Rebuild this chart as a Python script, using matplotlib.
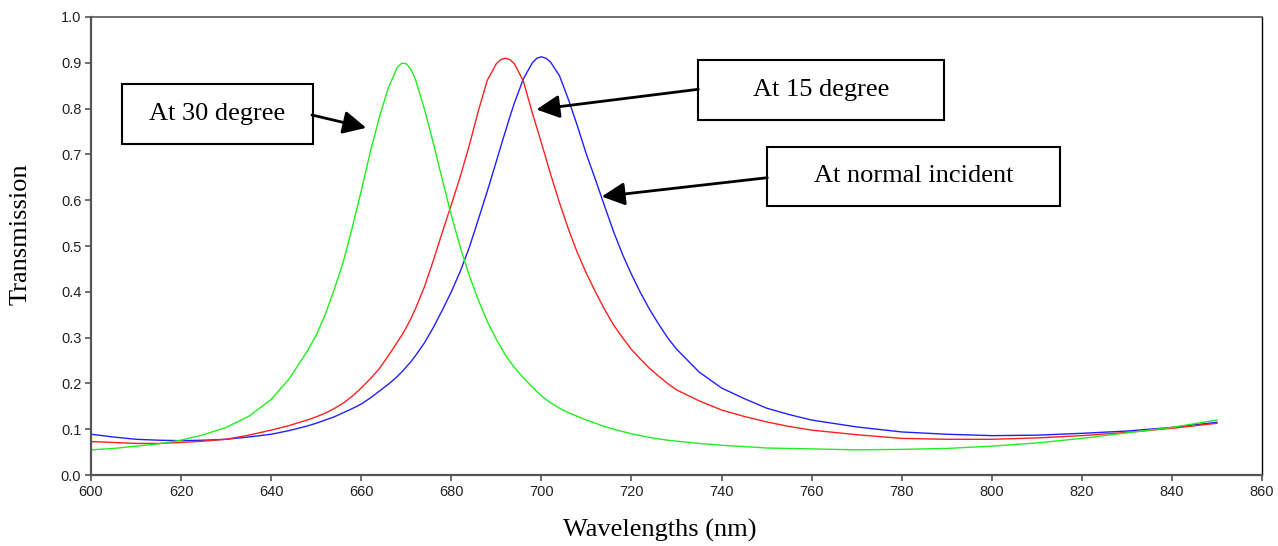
import matplotlib.pyplot as plt
from matplotlib.patches import Rectangle

# %% data

wavelength = [600, 605, 610, 615, 620, 625, 630, 635, 640, 644, 648,
              650, 652, 654, 656, 658, 660, 662, 664, 666, 668, 669,
              670, 671, 672, 674, 676, 678, 680, 682, 684, 686, 688,
              690, 691, 692, 693, 694, 696, 698, 699, 700, 701, 702, 704, 706, 708,
              710, 712, 714, 716, 718, 720, 722, 724, 726, 728,
              730,
              735, 740, 745, 750, 755, 760, 770, 780, 790, 800, 810, 820, 830, 840, 850]

t_30deg = [0.055, 0.058, 0.063, 0.068, 0.076, 0.088, 0.104, 0.128, 0.165, 0.21, 0.27,
           0.305, 0.35, 0.405, 0.465, 0.54, 0.62, 0.705, 0.78, 0.845, 0.89, 0.899,
           0.898, 0.886, 0.865, 0.80, 0.725, 0.645, 0.567, 0.497, 0.435, 0.382, 0.335,
           0.296, 0.279, 0.262, 0.248, 0.235, 0.212, 0.192, 0.182, 0.173, 0.165, 0.158,
           0.146, 0.136, 0.128,
           0.120, 0.113, 0.106, 0.100, 0.095, 0.090, 0.086, 0.082, 0.079, 0.076,
           0.074,
           0.069, 0.065, 0.062, 0.059, 0.058, 0.057, 0.055, 0.056, 0.058, 0.063,
           0.070, 0.080, 0.092, 0.104, 0.120]

t_15deg = [0.073, 0.071, 0.069, 0.069, 0.071, 0.074, 0.078, 0.087, 0.098, 0.108, 0.120,
           0.127, 0.135, 0.145, 0.157, 0.172, 0.19, 0.21, 0.232, 0.26, 0.29, 0.305,
           0.322, 0.341, 0.362, 0.41, 0.468, 0.53, 0.59, 0.652, 0.72, 0.795, 0.862,
           0.898, 0.907, 0.91, 0.907, 0.898, 0.86, 0.79, 0.758, 0.725, 0.692, 0.658,
           0.595, 0.537, 0.485,
           0.44, 0.40, 0.362, 0.328, 0.30, 0.274, 0.253, 0.233, 0.216, 0.200,
           0.186,
           0.162, 0.142, 0.128, 0.116, 0.106, 0.098, 0.088, 0.080, 0.078, 0.078,
           0.081, 0.086, 0.093, 0.102, 0.113]

t_normal = [0.089, 0.083, 0.078, 0.076, 0.075, 0.076, 0.078, 0.083, 0.089, 0.097, 0.107,
            0.113, 0.12, 0.127, 0.136, 0.145, 0.155, 0.168, 0.183, 0.198, 0.215, 0.225,
            0.236, 0.247, 0.26, 0.288, 0.322, 0.36, 0.40, 0.445, 0.497, 0.558, 0.62,
            0.685, 0.718, 0.75, 0.782, 0.812, 0.865, 0.90, 0.91, 0.913, 0.91, 0.902,
            0.872, 0.82, 0.762,
            0.70, 0.645, 0.588, 0.532, 0.482, 0.438, 0.398, 0.362, 0.33, 0.30,
            0.275,
            0.225, 0.19, 0.167, 0.146, 0.132, 0.12, 0.105, 0.094, 0.089, 0.086,
            0.087, 0.091, 0.096, 0.104, 0.115]

xticks = list(range(600, 861, 20))
yticks = [i / 10 for i in range(11)]

# %% figure

serif = 'Liberation Serif'
fig = plt.figure(figsize=(12.78, 5.46), dpi=100)
ax = fig.add_axes([0.0712, 0.13, 0.9163, 0.8389])

ax.plot(wavelength, t_normal, color='#2020ff', lw=1.0)
ax.plot(wavelength, t_15deg, color='#ff2020', lw=1.0)
ax.plot(wavelength, t_30deg, color='#20ee20', lw=1.0)

ax.set_xlim(600, 860)
ax.set_ylim(0, 1)
ax.set_xticks(xticks)
ax.set_yticks(yticks)
ax.set_yticklabels(['%.1f' % v for v in yticks])
ax.tick_params(direction='out', length=4, width=1.2, color='#555555',
               labelsize=10.5, labelcolor='#222222', pad=3)
for lab in ax.get_xticklabels() + ax.get_yticklabels():
    lab.set_fontfamily('Liberation Sans')

for side in ['left', 'bottom']:
    ax.spines[side].set_color('#555555')
    ax.spines[side].set_linewidth(1.6)
ax.spines['top'].set_color('#555555')
ax.spines['top'].set_linewidth(1.2)
ax.spines['right'].set_color('black')
ax.spines['right'].set_linewidth(1.0)

fig.text(0.5164, 0.029, 'Wavelengths (nm)', fontsize=19, family=serif,
         ha='center', va='center')
fig.text(0.0164, 0.571, 'Transmission', fontsize=19, family=serif,
         rotation=90, ha='center', va='center')

# %% annotation boxes with arrows (axes fraction for boxes, data for tips)

notes = [
    ('At 30 degree', (0.0265, 0.7227, 0.1631, 0.131), (0.1887, 0.786), (661.1, 0.758)),
    ('At 15 degree', (0.5186, 0.7751, 0.2101, 0.131), (0.5186, 0.8421), (698.9, 0.798)),
    ('At normal incident', (0.5775, 0.5873, 0.2500, 0.1295), (0.5775, 0.6491), (713.4, 0.608)),
]

for label, (bx, by, bw, bh), start, tip in notes:
    ax.add_patch(Rectangle((bx, by), bw, bh, transform=ax.transAxes,
                           facecolor='white', edgecolor='black', lw=1.5,
                           zorder=5, clip_on=False))
    ax.text(bx + bw / 2, by + bh / 2, label, transform=ax.transAxes,
            fontsize=19, family=serif, ha='center', va='center', zorder=6)
    ax.annotate('', xy=tip, xycoords='data', xytext=start,
                textcoords='axes fraction',
                arrowprops=dict(arrowstyle='-|>,head_length=0.7,head_width=0.35',
                                color='black', lw=2.0, mutation_scale=20,
                                shrinkA=0, shrinkB=0),
                zorder=6)

fig.savefig('out.png', dpi=100)
